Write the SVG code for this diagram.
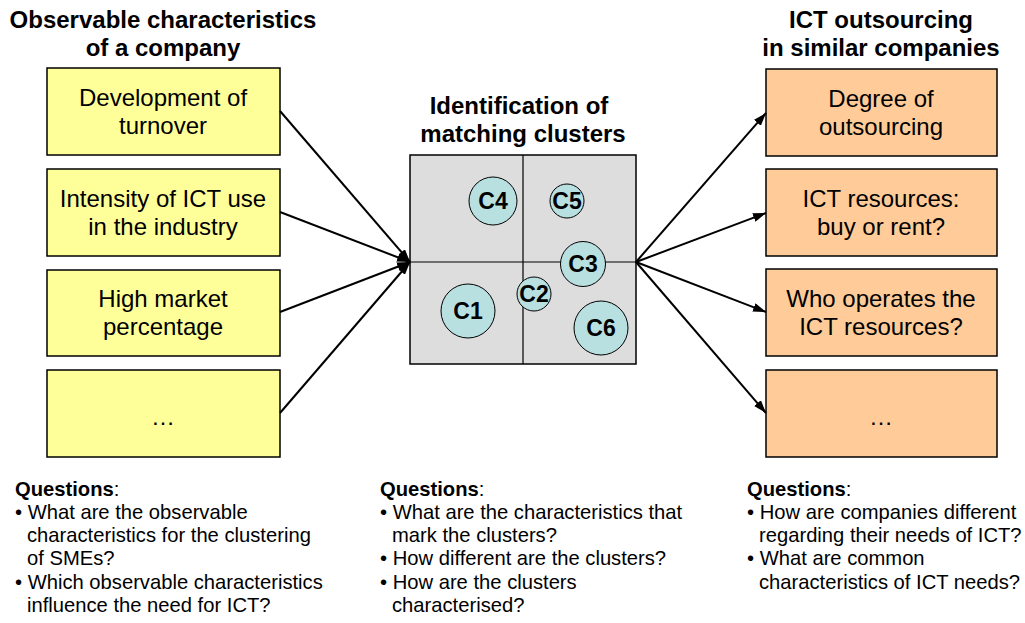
<svg xmlns="http://www.w3.org/2000/svg" width="1025" height="623" viewBox="0 0 1025 623">
<style>
text{font-family:"Liberation Sans",Arial,sans-serif;fill:#000}
.title{font-size:24px;font-weight:bold;text-anchor:middle}
.box{font-size:24px;text-anchor:middle}
.q{font-size:20.2px}
.qb{font-weight:bold}
.yel{fill:#ffff99;stroke:#000;stroke-width:1.5}
.ora{fill:#ffcc99;stroke:#000;stroke-width:1.5}
.cl{fill:#b9e0e1;stroke:#000;stroke-width:1}
.cll{font-size:23px;font-weight:bold;text-anchor:middle}
.conn{stroke:#000;stroke-width:2;fill:none}
</style>
<defs>
<marker id="ah" viewBox="0 0 13 9" refX="13" refY="4.5" markerWidth="13" markerHeight="9" markerUnits="userSpaceOnUse" orient="auto">
<path d="M0,0 L13,4.5 L0,9 Z" fill="#000"/>
</marker>
</defs>
<rect width="1025" height="623" fill="#fff"/>
<text class="title" x="163" y="28">Observable characteristics</text>
<text class="title" x="163" y="56">of a company</text>
<text class="title" x="881" y="28">ICT outsourcing</text>
<text class="title" x="881" y="56">in similar companies</text>
<text class="title" x="519" y="114">Identification of</text>
<text class="title" x="523" y="142">matching clusters</text>
<g id="left1"><rect class="yel" x="47" y="68" width="233" height="87"/><text class="box" x="163" y="106">Development of</text><text class="box" x="163" y="134">turnover</text></g>
<g id="left2"><rect class="yel" x="47" y="169" width="233" height="87"/><text class="box" x="163" y="207">Intensity of ICT use</text><text class="box" x="163" y="235">in the industry</text></g>
<g id="left3"><rect class="yel" x="47" y="270" width="233" height="86"/><text class="box" x="163" y="307">High market</text><text class="box" x="163" y="335">percentage</text></g>
<g id="left4"><rect class="yel" x="47" y="370" width="233" height="87"/><text class="box" x="163" y="425">…</text></g>
<g id="clusters">
<rect x="410" y="155" width="226" height="209" fill="#dddddd" stroke="#000" stroke-width="1.5"/>
<line x1="523" y1="155" x2="523" y2="364" stroke="#000" stroke-width="1.2"/>
<line x1="410" y1="262" x2="636" y2="262" stroke="#000" stroke-width="1.2"/>
<g id="c4"><circle class="cl" cx="493" cy="201" r="24"/><text class="cll" x="493" y="209">C4</text></g>
<g id="c5"><circle class="cl" cx="567" cy="201" r="17"/><text class="cll" x="567" y="209">C5</text></g>
<g id="c3"><circle class="cl" cx="583" cy="264" r="22.5"/><text class="cll" x="583" y="272">C3</text></g>
<g id="c2"><circle class="cl" cx="534" cy="294" r="17"/><text class="cll" x="534" y="302">C2</text></g>
<g id="c1"><circle class="cl" cx="468" cy="311" r="27"/><text class="cll" x="468" y="319">C1</text></g>
<g id="c6"><circle class="cl" cx="601" cy="328" r="27"/><text class="cll" x="601" y="336">C6</text></g>
</g>
<g id="right1"><rect class="ora" x="766" y="69" width="231" height="87"/><text class="box" x="881" y="107">Degree of</text><text class="box" x="881" y="135">outsourcing</text></g>
<g id="right2"><rect class="ora" x="766" y="169" width="231" height="87"/><text class="box" x="881" y="207">ICT resources:</text><text class="box" x="881" y="235">buy or rent?</text></g>
<g id="right3"><rect class="ora" x="766" y="269" width="231" height="87"/><text class="box" x="881" y="307">Who operates the</text><text class="box" x="881" y="335">ICT resources?</text></g>
<g id="right4"><rect class="ora" x="766" y="370" width="231" height="87"/><text class="box" x="881" y="425">…</text></g>
<g id="connectors">
<line class="conn" x1="280" y1="111" x2="410" y2="262" marker-end="url(#ah)"/>
<line class="conn" x1="280" y1="212" x2="410" y2="262" marker-end="url(#ah)"/>
<line class="conn" x1="280" y1="312" x2="410" y2="262" marker-end="url(#ah)"/>
<line class="conn" x1="280" y1="413" x2="410" y2="262" marker-end="url(#ah)"/>
<line class="conn" x1="636" y1="262" x2="766" y2="113" marker-end="url(#ah)"/>
<line class="conn" x1="636" y1="262" x2="766" y2="213" marker-end="url(#ah)"/>
<line class="conn" x1="636" y1="262" x2="766" y2="312" marker-end="url(#ah)"/>
<line class="conn" x1="636" y1="262" x2="766" y2="413" marker-end="url(#ah)"/>
</g>
<g id="q-left" class="q">
<text x="15" y="496"><tspan class="qb">Questions</tspan>:</text>
<text x="15" y="519">• What are the observable</text>
<text x="27" y="542">characteristics for the clustering</text>
<text x="27" y="565">of SMEs?</text>
<text x="15" y="589">• Which observable characteristics</text>
<text x="27" y="612">influence the need for ICT?</text>
</g>
<g id="q-mid" class="q">
<text x="380" y="496"><tspan class="qb">Questions</tspan>:</text>
<text x="380" y="519">• What are the characteristics that</text>
<text x="392" y="542">mark the clusters?</text>
<text x="380" y="565">• How different are the clusters?</text>
<text x="380" y="589">• How are the clusters</text>
<text x="392" y="612">characterised?</text>
</g>
<g id="q-right" class="q">
<text x="747" y="496"><tspan class="qb">Questions</tspan>:</text>
<text x="747" y="519">• How are companies different</text>
<text x="759" y="542">regarding their needs of ICT?</text>
<text x="747" y="565">• What are common</text>
<text x="759" y="589">characteristics of ICT needs?</text>
</g>
</svg>
